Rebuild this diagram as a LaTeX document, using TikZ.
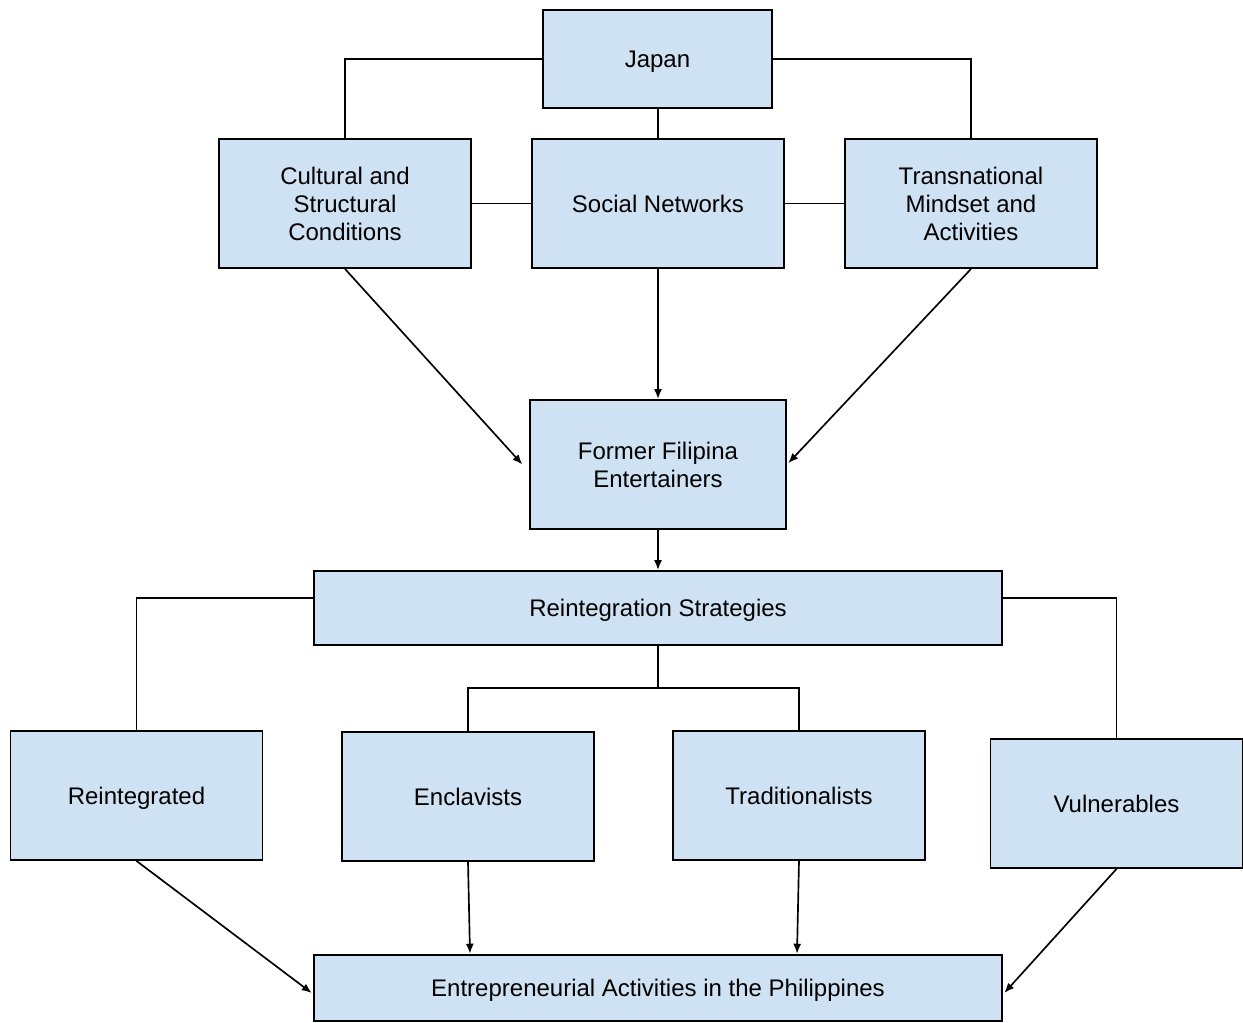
\documentclass[tikz,border=0pt]{standalone}
\usepackage{fontspec}
\setmainfont{Liberation Sans}
\usetikzlibrary{arrows.meta}
\definecolor{boxblue}{HTML}{CFE2F3}
\begin{document}
\begin{tikzpicture}[x=0.75pt,y=-0.75pt,
  box/.style={draw=black, fill=boxblue, line width=1.4pt, align=center, inner sep=0pt,
    font=\fontsize{18}{21}\selectfont, minimum width=189pt, minimum height=96.75pt},
  single/.style={text depth=0pt},
  link/.style={draw=black, line width=1.25pt},
  arr/.style={link, -{Latex[length=7.5pt,width=6pt]}}]
\useasboundingbox (0,0) rectangle (1243,1022);
\node[box, single, minimum width=171.75pt, minimum height=73.5pt] (jap) at (657.5,59) {Japan};
\node[box] (cult) at (345,203.5) {Cultural and\\Structural\\Conditions};
\node[box, single] (soc) at (658,203.5) {Social Networks};
\node[box] (trans) at (971,203.5) {Transnational\\Mindset and\\Activities};
\node[box, minimum width=192pt] (fore) at (658,464.5) {Former Filipina\\Entertainers};
\node[box, single, minimum width=516pt, minimum height=55.5pt] (rein) at (658,608) {Reintegration Strategies};
\node[box, single] (rted) at (136.5,795.5) {Reintegrated};
\node[box, single] (encl) at (468,796.5) {Enclavists};
\node[box, single] (trad) at (799,795.5) {Traditionalists};
\node[box, single] (vuln) at (1116.5,803.5) {Vulnerables};
\node[box, single, minimum width=516pt, minimum height=50pt] (ent) at (658,988) {Entrepreneurial Activities in the Philippines};
\coordinate (split) at (658,688);
% top connections
\draw[link] (jap.west) -| (cult.north);
\draw[link] (jap.east) -| (trans.north);
\draw[link] (soc.north |- jap.south) -- (soc.north);
\draw[link] (cult.east) -- (soc.west);
\draw[link] (soc.east) -- (trans.west);
% into former
\draw[arr] (cult.south) -- ([xshift=-5pt]fore.west);
\draw[arr] (soc.south) -- (fore.north);
\draw[arr] (trans.south) -- ([xshift=1pt,yshift=1pt]fore.east);
\draw[arr] (fore.south) -- (rein.north);
% strategies
\draw[link] ([yshift=7.5pt]rein.west) -| (rted.north);
\draw[link] ([yshift=7.5pt]rein.east) -| (vuln.north);
\draw[link] (rein.south) -- (split);
\draw[link] (split) -| (encl.north);
\draw[link] (split) -| (trad.north);
% into entrepreneurial
\draw[arr] (rted.south) -- ([xshift=-1pt,yshift=-3.75pt]ent.west);
\draw[arr] (encl.south) -- ([xshift=1.5pt]encl.south |- ent.north);
\draw[arr] (trad.south) -- ([xshift=-1.5pt]trad.south |- ent.north);
\draw[arr] (vuln.south) -- ([xshift=1pt,yshift=-3.75pt]ent.east);
\end{tikzpicture}
\end{document}
